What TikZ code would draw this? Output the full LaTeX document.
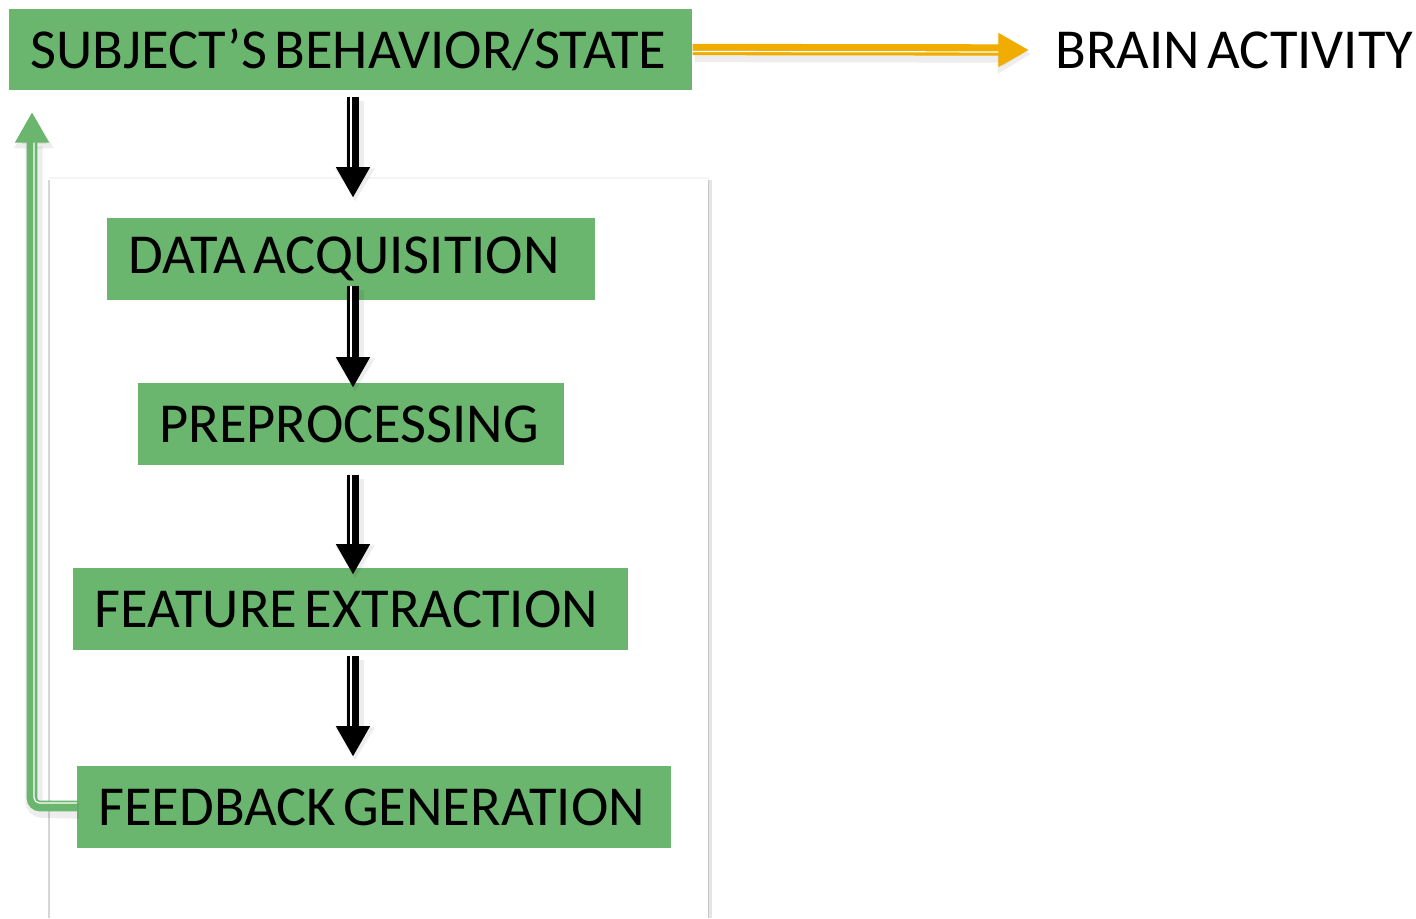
\documentclass[tikz,border=0pt]{standalone}
\usepackage{fontspec}
\setmainfont{Carlito}
\usetikzlibrary{arrows.meta,calc}

\definecolor{stagegreen}{RGB}{107,182,110}
\definecolor{flowblack}{RGB}{0,0,0}
\definecolor{signalorange}{RGB}{240,173,0}

% thick shaft with a thin white stripe along one side, plus a soft shadow
\newcommand\flowarrow[4]{%
  \draw[black, opacity=0.07, line width=13pt, -{Triangle[width=28pt,length=25pt]}]
    ($(#2)+(2,4)$) -- ($(#3)+(2,4)$);
  \draw[#1, line width=8.5pt, -{Triangle[width=24pt,length=23pt]}] (#2) -- (#3);
  \draw[white, line width=0.9pt, shorten >=23pt] ($(#2)+(#4)$) -- ($(#3)+(#4)$);
}

\newcommand\stagefont{\fontsize{42.35}{48}\selectfont}

\tikzset{
  tightspace/.style={execute at begin node={\spaceskip=0.13em\relax\xspaceskip=0.13em\relax}},
  stage/.style={fill=stagegreen, anchor=west, align=left, inner xsep=15.75pt,
    inner ysep=0pt, minimum height=61.5pt, font=\stagefont, tightspace},
  label/.style={anchor=west, inner sep=0pt, font=\stagefont, tightspace},
  panel/.style={line width=1.5pt}
}

\begin{document}
\begin{tikzpicture}[x=0.75pt, y=-0.75pt]
  \useasboundingbox (0,0) rectangle (1416,918);

  % background panel behind the pipeline
  \draw[panel, black!4] (49,178) -- (709,178);
  \draw[panel, black!16] (49,180) -- (49,918);
  \draw[line width=3pt, black!10] (710,180) -- (710,918);
  \draw[line width=1pt, black!22] (708.5,180) -- (708.5,918);

  % stages
  \node[stage, minimum width=512.25pt, text width=480.75pt, minimum height=60.75pt]
    (s1) at (9,49.5) {SUBJECT’S BEHAVIOR/STATE};
  \node[stage, minimum width=366pt, text width=334.5pt] (s2) at (107,259) {DATA ACQUISITION};
  \node[stage, minimum width=319.5pt, text width=288pt] (s3) at (138,424) {PREPROCESSING};
  \node[stage, minimum width=416.25pt, text width=384.75pt] (s4) at (73,609) {FEATURE EXTRACTION};
  \node[stage, minimum width=445.5pt, text width=414pt] (s5) at (77,807) {FEEDBACK GENERATION};

  \node[label] (brain) at (1055,50) {BRAIN ACTIVITY};

  \coordinate (col) at (353,0);

  % downward flow between stages
  \flowarrow{flowblack}{$(s1.south -| col)+(0,7)$}{$(s2.north -| col)+(0,-20)$}{-2,0}
  \flowarrow{flowblack}{$(s2.south -| col)+(0,-14)$}{$(s3.north -| col)+(0,5)$}{-2,0}
  \flowarrow{flowblack}{$(s3.south -| col)+(0,10)$}{$(s4.north -| col)+(0,7)$}{-2,0}
  \flowarrow{flowblack}{$(s4.south -| col)+(0,6)$}{$(s5.north -| col)+(0,-9)$}{-2,0}

  % behaviour produces brain activity
  \flowarrow{signalorange}{s1.east}{$(brain.west)+(-26,0)$}{0,2}

  % feedback loop back to the subject
  \coordinate (fbcorner) at (32,806);
  \coordinate (fbtip) at (32,112);
  \draw[black, opacity=0.07, line width=13pt, rounded corners=6pt,
        -{Triangle[width=28pt,length=25pt]}]
    ($(s5.west)+(2,3)$) -- ($(fbcorner)+(2,3)$) -- ($(fbtip)+(2,3)$);
  \draw[stagegreen, line width=8pt, rounded corners=6pt,
        -{Triangle[width=24pt,length=23pt]}]
    (s5.west |- fbcorner) -- (fbcorner) -- (fbtip);
  \draw[white, line width=0.9pt, rounded corners=4pt, shorten >=23pt]
    ($(s5.west |- fbcorner)+(0,-3)$) -- ($(fbcorner)+(2,-3)$) -- ($(fbtip)+(2,0)$);
\end{tikzpicture}
\end{document}
